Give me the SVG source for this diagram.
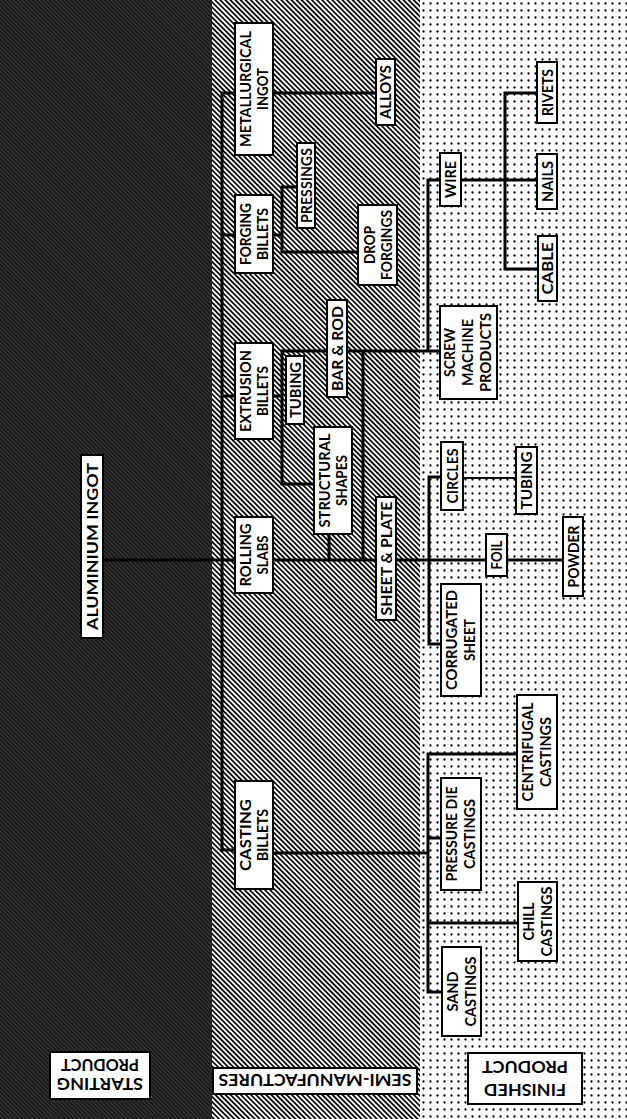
<svg xmlns="http://www.w3.org/2000/svg" width="627" height="1119" viewBox="0 0 627 1119">
<defs>
<pattern id="dark" patternUnits="userSpaceOnUse" width="3" height="3" patternTransform="rotate(-45)">
<rect width="3" height="3" fill="#1a1a1a"/>
<rect width="0.8" height="3" fill="#444"/>
</pattern>
<pattern id="hatch" patternUnits="userSpaceOnUse" width="3.6" height="3.6" patternTransform="rotate(-45)">
<rect width="3.6" height="3.6" fill="#fff"/>
<rect width="1.7" height="3.6" fill="#000"/>
</pattern>
<pattern id="dots" patternUnits="userSpaceOnUse" width="7" height="7">
<rect width="7" height="7" fill="#fff"/>
<circle cx="3.5" cy="3.5" r="1.15" fill="#000"/>
</pattern>
</defs>
<style>
.box{fill:#fff;stroke:#000;stroke-width:2}
.t{font-family:Lato,"DejaVu Sans",sans-serif;font-weight:bold;font-size:15px;fill:#000;text-anchor:middle}
.b{font-size:17px}
.ln{stroke:#000;stroke-width:3;fill:none}
.thin{stroke-width:2}
</style>
<g id="bands">
<rect x="0" y="0" width="212" height="1119" fill="url(#dark)"/>
<rect x="212" y="0" width="208" height="1119" fill="url(#hatch)"/>
<rect x="420" y="0" width="207" height="1119" fill="url(#dots)"/>
</g>
<g id="connectors">
<path class="ln" d="M235,93 H222 V850 H235"/>
<path class="ln" d="M273,93 H376"/>
<path class="ln" d="M222,235 H235 M273,235 H282"/>
<path class="ln" d="M297,187 H282 V252 H358"/>
<path class="ln" d="M222,396 H235 M273,396 H282"/>
<path class="ln" d="M440,351 H282 V484 H314"/>
<path class="ln" d="M363,351 V560 M329,534 V560"/>
<path class="ln" d="M103,560 H235 M273,560 H563"/>
<path class="ln" d="M441,477 H429 V644 H441"/>
<path class="ln thin" d="M463,478 H516"/>
<path class="ln" d="M428,351 V180 H537"/>
<path class="ln" d="M537,93 H505 V269 H538"/>
<path class="ln" d="M273,853 H428"/>
<path class="ln" d="M517,754 H428 V992 H442 M428,923 H518 M428,838 H441"/>
</g>
<g id="aluminium-ingot"><rect class="box" x="81" y="455" width="22" height="183"/>
<text class="t" transform="translate(97.5,546.5) rotate(-90)" textLength="167" lengthAdjust="spacingAndGlyphs">ALUMINIUM INGOT</text></g>
<g id="metallurgical-ingot"><rect class="box" x="235" y="23" width="38" height="132"/>
<text class="t" transform="translate(251,89) rotate(-90)" textLength="116" lengthAdjust="spacingAndGlyphs">METALLURGICAL</text>
<text class="t" transform="translate(268,89) rotate(-90)" textLength="42" lengthAdjust="spacingAndGlyphs">INGOT</text></g>
<g id="alloys"><rect class="box" x="376" y="59" width="19" height="66"/>
<text class="t" transform="translate(391,92) rotate(-90)" textLength="54" lengthAdjust="spacingAndGlyphs">ALLOYS</text></g>
<g id="pressings"><rect class="box" x="297" y="143" width="18" height="85"/>
<text class="t" transform="translate(311.5,185.5) rotate(-90)" textLength="75" lengthAdjust="spacingAndGlyphs">PRESSINGS</text></g>
<g id="forging-billets"><rect class="box" x="235" y="195" width="38" height="78"/>
<text class="t" transform="translate(251,234) rotate(-90)" textLength="62" lengthAdjust="spacingAndGlyphs">FORGING</text>
<text class="t" transform="translate(268,234) rotate(-90)" textLength="52" lengthAdjust="spacingAndGlyphs">BILLETS</text></g>
<g id="drop-forgings"><rect class="box" x="358" y="205" width="39" height="80"/>
<text class="t" transform="translate(375,245) rotate(-90)" textLength="38" lengthAdjust="spacingAndGlyphs">DROP</text>
<text class="t" transform="translate(392,245) rotate(-90)" textLength="70" lengthAdjust="spacingAndGlyphs">FORGINGS</text></g>
<g id="extrusion-billets"><rect class="box" x="235" y="343" width="38" height="96"/>
<text class="t" transform="translate(251,391) rotate(-90)" textLength="82" lengthAdjust="spacingAndGlyphs">EXTRUSION</text>
<text class="t" transform="translate(268,391) rotate(-90)" textLength="50" lengthAdjust="spacingAndGlyphs">BILLETS</text></g>
<g id="tubing-semi"><rect class="box" x="286" y="356" width="18" height="68"/>
<text class="t" transform="translate(300.5,390) rotate(-90)" textLength="56" lengthAdjust="spacingAndGlyphs">TUBING</text></g>
<g id="bar-rod"><rect class="box" x="327" y="300" width="20" height="97"/>
<text class="t" transform="translate(342.5,348.5) rotate(-90)" textLength="85" lengthAdjust="spacingAndGlyphs">BAR &amp; ROD</text></g>
<g id="structural-shapes"><rect class="box" x="314" y="427" width="38" height="107"/>
<text class="t" transform="translate(330,480.5) rotate(-90)" textLength="94" lengthAdjust="spacingAndGlyphs">STRUCTURAL</text>
<text class="t" transform="translate(347,480.5) rotate(-90)" textLength="51" lengthAdjust="spacingAndGlyphs">SHAPES</text></g>
<g id="rolling-slabs"><rect class="box" x="235" y="517" width="38" height="76"/>
<text class="t" transform="translate(251,555) rotate(-90)" textLength="63" lengthAdjust="spacingAndGlyphs">ROLLING</text>
<text class="t" transform="translate(268,555) rotate(-90)" textLength="39" lengthAdjust="spacingAndGlyphs">SLABS</text></g>
<g id="sheet-plate"><rect class="box" x="376" y="497" width="20" height="123"/>
<text class="t" transform="translate(391.5,558.5) rotate(-90)" textLength="114" lengthAdjust="spacingAndGlyphs">SHEET &amp; PLATE</text></g>
<g id="casting-billets"><rect class="box" x="235" y="781" width="38" height="108"/>
<text class="t" transform="translate(251,835) rotate(-90)" textLength="72" lengthAdjust="spacingAndGlyphs">CASTING</text>
<text class="t" transform="translate(268,835) rotate(-90)" textLength="52" lengthAdjust="spacingAndGlyphs">BILLETS</text></g>
<g id="wire"><rect class="box" x="440" y="153" width="21" height="53"/>
<text class="t" transform="translate(456,179.5) rotate(-90)" textLength="37" lengthAdjust="spacingAndGlyphs">WIRE</text></g>
<g id="rivets"><rect class="box" x="537" y="62" width="20" height="61"/>
<text class="t" transform="translate(552.5,92.5) rotate(-90)" textLength="47" lengthAdjust="spacingAndGlyphs">RIVETS</text></g>
<g id="nails"><rect class="box" x="537" y="154" width="20" height="55"/>
<text class="t" transform="translate(552.5,181.5) rotate(-90)" textLength="41" lengthAdjust="spacingAndGlyphs">NAILS</text></g>
<g id="cable"><rect class="box" x="538" y="236" width="19" height="65"/>
<text class="t" transform="translate(553,268.5) rotate(-90)" textLength="52" lengthAdjust="spacingAndGlyphs">CABLE</text></g>
<g id="screw-machine-products"><rect class="box" x="440" y="306" width="57" height="93"/>
<text class="t" transform="translate(455,352.5) rotate(-90)" textLength="49" lengthAdjust="spacingAndGlyphs">SCREW</text>
<text class="t" transform="translate(473,352.5) rotate(-90)" textLength="67" lengthAdjust="spacingAndGlyphs">MACHINE</text>
<text class="t" transform="translate(491,352.5) rotate(-90)" textLength="79" lengthAdjust="spacingAndGlyphs">PRODUCTS</text></g>
<g id="circles"><rect class="box" x="441" y="442" width="22" height="68"/>
<text class="t" transform="translate(457.5,476) rotate(-90)" textLength="55" lengthAdjust="spacingAndGlyphs">CIRCLES</text></g>
<g id="tubing-finished"><rect class="box" x="516" y="447" width="21" height="67"/>
<text class="t" transform="translate(532,480.5) rotate(-90)" textLength="58" lengthAdjust="spacingAndGlyphs">TUBING</text></g>
<g id="foil"><rect class="box" x="486" y="534" width="21" height="42"/>
<text class="t" transform="translate(502,555) rotate(-90)" textLength="29" lengthAdjust="spacingAndGlyphs">FOIL</text></g>
<g id="powder"><rect class="box" x="563" y="517" width="20" height="79"/>
<text class="t" transform="translate(578.5,556.5) rotate(-90)" textLength="62" lengthAdjust="spacingAndGlyphs">POWDER</text></g>
<g id="corrugated-sheet"><rect class="box" x="441" y="584" width="40" height="112"/>
<text class="t" transform="translate(457,640) rotate(-90)" textLength="100" lengthAdjust="spacingAndGlyphs">CORRUGATED</text>
<text class="t" transform="translate(475,640) rotate(-90)" textLength="42" lengthAdjust="spacingAndGlyphs">SHEET</text></g>
<g id="centrifugal-castings"><rect class="box" x="517" y="695" width="40" height="114"/>
<text class="t" transform="translate(533,752) rotate(-90)" textLength="99" lengthAdjust="spacingAndGlyphs">CENTRIFUGAL</text>
<text class="t" transform="translate(551,752) rotate(-90)" textLength="70" lengthAdjust="spacingAndGlyphs">CASTINGS</text></g>
<g id="pressure-die-castings"><rect class="box" x="441" y="778" width="40" height="112"/>
<text class="t" transform="translate(457,834) rotate(-90)" textLength="95" lengthAdjust="spacingAndGlyphs">PRESSURE DIE</text>
<text class="t" transform="translate(475,834) rotate(-90)" textLength="70" lengthAdjust="spacingAndGlyphs">CASTINGS</text></g>
<g id="chill-castings"><rect class="box" x="518" y="882" width="39" height="79"/>
<text class="t" transform="translate(534,921.5) rotate(-90)" textLength="38" lengthAdjust="spacingAndGlyphs">CHILL</text>
<text class="t" transform="translate(552,921.5) rotate(-90)" textLength="70" lengthAdjust="spacingAndGlyphs">CASTINGS</text></g>
<g id="sand-castings"><rect class="box" x="442" y="947" width="39" height="89"/>
<text class="t" transform="translate(458,991.5) rotate(-90)" textLength="40" lengthAdjust="spacingAndGlyphs">SAND</text>
<text class="t" transform="translate(476,991.5) rotate(-90)" textLength="70" lengthAdjust="spacingAndGlyphs">CASTINGS</text></g>
<g id="label-starting-product"><rect class="box" x="50" y="1052" width="100" height="47"/>
<text class="t b" transform="translate(100,1078) rotate(180)" textLength="86" lengthAdjust="spacingAndGlyphs">STARTING</text>
<text class="t b" transform="translate(100,1059) rotate(180)" textLength="78" lengthAdjust="spacingAndGlyphs">PRODUCT</text></g>
<g id="label-semi-manufactures"><rect class="box" x="213" y="1068" width="204" height="26"/>
<text class="t b" transform="translate(315,1074) rotate(180)" textLength="193" lengthAdjust="spacingAndGlyphs">SEMI-MANUFACTURES</text></g>
<g id="label-finished-product"><rect class="box" x="468" y="1053" width="114" height="51"/>
<text class="t b" transform="translate(525,1084) rotate(180)" textLength="82" lengthAdjust="spacingAndGlyphs">FINISHED</text>
<text class="t b" transform="translate(525,1061) rotate(180)" textLength="86" lengthAdjust="spacingAndGlyphs">PRODUCT</text></g>
</svg>
